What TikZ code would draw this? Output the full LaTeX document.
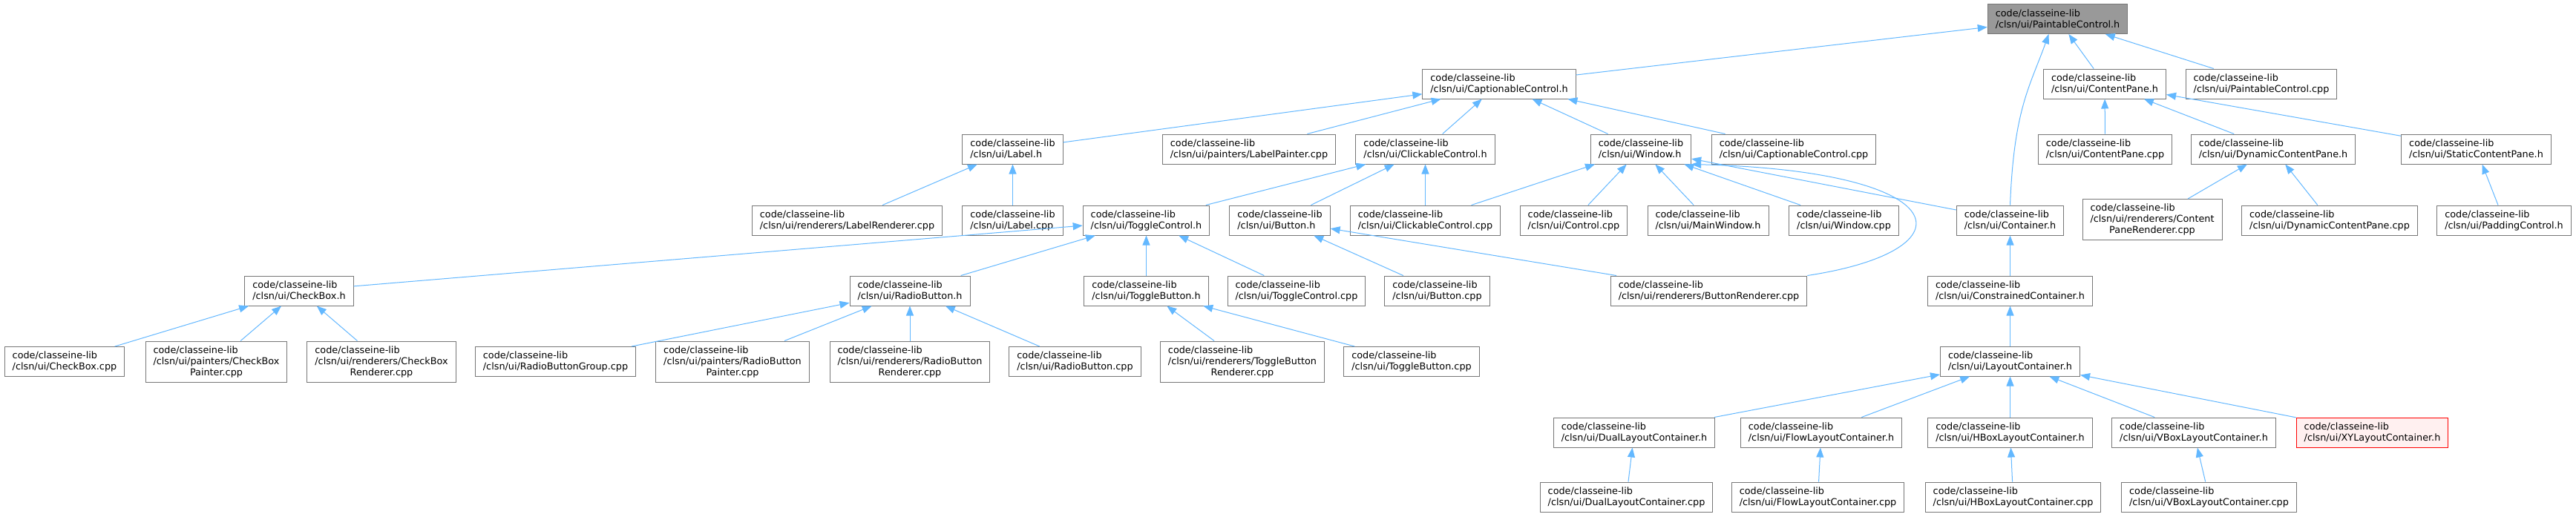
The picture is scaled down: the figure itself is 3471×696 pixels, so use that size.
\documentclass[tikz,border=0pt]{standalone}
\usepackage{fontspec}
\setmainfont{DejaVu Sans}
\usetikzlibrary{arrows.meta}

\definecolor{edgeblue}{HTML}{63B8FF}
\definecolor{boxgray}{HTML}{777777}
\definecolor{rootgray}{HTML}{999999}
\definecolor{cutfill}{HTML}{FFF0F0}

\newcommand{\dfile}[1]{code/classeine-lib\\/clsn/ui/#1}
\newcommand{\dsplit}[2]{\rlap{code/classeine-lib}\phantom{/clsn/ui/#1}\\/clsn/ui/#1\\#2}

\begin{document}
\begin{tikzpicture}[x=1pt, y=1pt,
    filebox/.style={draw=boxgray, line width=1pt, fill=white, align=left,
        inner xsep=10.5pt, inner ysep=0pt, minimum height=40pt,
        font=\fontsize{12.8}{15}\selectfont},
    splitbox/.style={filebox, align=center, minimum height=55pt},
    rootbox/.style={filebox, fill=rootgray},
    cutbox/.style={filebox, draw=red, fill=cutfill},
    dep/.style={draw=edgeblue, line width=1pt, -{Triangle[length=13pt,width=10pt]}}]
    \path[use as bounding box, fill=white] (0,0) rectangle (3471,-696);

    \node[rootbox] (pch) at (2772.5,-25.5) {\dfile{PaintableControl.h}};
    \node[filebox] (cch) at (2020,-113) {\dfile{CaptionableControl.h}};
    \node[filebox] (cph) at (2836,-113) {\dfile{ContentPane.h}};
    \node[filebox] (pcc) at (3047,-113) {\dfile{PaintableControl.cpp}};

    \node[filebox] (lbh) at (1364.5,-201) {\dfile{Label.h}};
    \node[filebox] (lpc) at (1683,-201) {\dfile{painters/LabelPainter.cpp}};
    \node[filebox] (clh) at (1920.5,-201) {\dfile{ClickableControl.h}};
    \node[filebox] (wnh) at (2211,-201) {\dfile{Window.h}};
    \node[filebox] (ccc) at (2417,-201) {\dfile{CaptionableControl.cpp}};
    \node[filebox] (cpc) at (2836.5,-201) {\dfile{ContentPane.cpp}};
    \node[filebox] (dch) at (3063,-201) {\dfile{DynamicContentPane.h}};
    \node[filebox] (sch) at (3336.5,-201) {\dfile{StaticContentPane.h}};

    \node[filebox] (lrc) at (1141.5,-297) {\dfile{renderers/LabelRenderer.cpp}};
    \node[filebox] (lbc) at (1364.5,-297) {\dfile{Label.cpp}};
    \node[filebox] (tch) at (1544.5,-297) {\dfile{ToggleControl.h}};
    \node[filebox] (bth) at (1724.5,-297) {\dfile{Button.h}};
    \node[filebox] (clc) at (1920.5,-297) {\dfile{ClickableControl.cpp}};
    \node[filebox] (ctc) at (2120.5,-297) {\dfile{Control.cpp}};
    \node[filebox] (mwh) at (2301.5,-297) {\dfile{MainWindow.h}};
    \node[filebox] (wnc) at (2484.5,-297) {\dfile{Window.cpp}};
    \node[filebox] (cnh) at (2708.5,-297) {\dfile{Container.h}};
    \node[splitbox] (cpr) at (2900,-296) {\dsplit{renderers/Content}{PaneRenderer.cpp}};
    \node[filebox] (dcc) at (3139,-297) {\dfile{DynamicContentPane.cpp}};
    \node[filebox] (pdh) at (3374,-297) {\dfile{PaddingControl.h}};

    \node[filebox] (cbh) at (403,-392) {\dfile{CheckBox.h}};
    \node[filebox] (rbh) at (1226,-392) {\dfile{RadioButton.h}};
    \node[filebox] (tbh) at (1544.5,-392) {\dfile{ToggleButton.h}};
    \node[filebox] (tcc) at (1747,-392) {\dfile{ToggleControl.cpp}};
    \node[filebox] (btc) at (1936.5,-392) {\dfile{Button.cpp}};
    \node[filebox] (brc) at (2302.5,-392) {\dfile{renderers/ButtonRenderer.cpp}};
    \node[filebox] (coh) at (2708.5,-392) {\dfile{ConstrainedContainer.h}};

    \node[filebox] (cbc) at (87,-487.5) {\dfile{CheckBox.cpp}};
    \node[splitbox] (cbp) at (291.5,-487.5) {\dsplit{painters/CheckBox}{Painter.cpp}};
    \node[splitbox] (cbr) at (514,-487.5) {\dsplit{renderers/CheckBox}{Renderer.cpp}};
    \node[filebox] (rgc) at (748.5,-487.5) {\dfile{RadioButtonGroup.cpp}};
    \node[splitbox] (rbp) at (987,-487.5) {\dsplit{painters/RadioButton}{Painter.cpp}};
    \node[splitbox] (rbr) at (1226,-487.5) {\dsplit{renderers/RadioButton}{Renderer.cpp}};
    \node[filebox] (rbc) at (1448.5,-487.5) {\dfile{RadioButton.cpp}};
    \node[splitbox] (tbr) at (1674,-487.5) {\dsplit{renderers/ToggleButton}{Renderer.cpp}};
    \node[filebox] (tbc) at (1902,-487.5) {\dfile{ToggleButton.cpp}};
    \node[filebox] (lch) at (2708.5,-487) {\dfile{LayoutContainer.h}};

    \node[filebox] (dlh) at (2202,-583) {\dfile{DualLayoutContainer.h}};
    \node[filebox] (flh) at (2454,-583) {\dfile{FlowLayoutContainer.h}};
    \node[filebox] (hbh) at (2708.5,-583) {\dfile{HBoxLayoutContainer.h}};
    \node[filebox] (vbh) at (2956,-583) {\dfile{VBoxLayoutContainer.h}};
    \node[cutbox] (xyh) at (3196.5,-583) {\dfile{XYLayoutContainer.h}};

    \node[filebox] (dlc) at (2191.5,-670) {\dfile{DualLayoutContainer.cpp}};
    \node[filebox] (flc) at (2449.5,-670) {\dfile{FlowLayoutContainer.cpp}};
    \node[filebox] (hbc) at (2712.5,-670) {\dfile{HBoxLayoutContainer.cpp}};
    \node[filebox] (vbc) at (2976.5,-670) {\dfile{VBoxLayoutContainer.cpp}};

    \foreach \a/\b in {cch/pch, pcc/pch, cph/pch,
        lbh/cch, lpc/cch, clh/cch, wnh/cch, ccc/cch,
        cpc/cph, dch/cph, sch/cph, lrc/lbh, lbc/lbh,
        tch/clh, bth/clh, clc/clh,
        clc/wnh, ctc/wnh, mwh/wnh, wnc/wnh, cnh/wnh,
        cpr/dch, dcc/dch, pdh/sch,
        cbh/tch, rbh/tch, tbh/tch, tcc/tch, btc/bth, brc/bth,
        coh/cnh, lch/coh, cbc/cbh, cbp/cbh, cbr/cbh,
        rgc/rbh, rbp/rbh, rbr/rbh, rbc/rbh, tbr/tbh, tbc/tbh,
        dlh/lch, flh/lch, hbh/lch, vbh/lch, xyh/lch,
        dlc/dlh, flc/flh, hbc/hbh, vbc/vbh}
        \draw[dep] (\a) -- (\b);
    \draw[dep] (cnh.north) .. controls +(5,130) and +(-25,-70) .. ([xshift=-12pt]pch.south);
    \draw[dep] (brc.north east) .. controls +(224,34) and +(359,-9) .. (wnh.south east);
\end{tikzpicture}
\end{document}
